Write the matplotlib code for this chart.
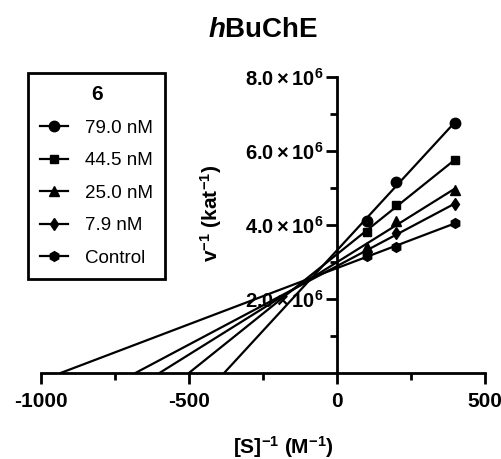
import numpy as np
import matplotlib
matplotlib.use('Agg')
import matplotlib.pyplot as plt
from matplotlib.ticker import FixedLocator
from matplotlib.lines import Line2D

plt.rcParams['font.family'] = ['Liberation Sans', 'DejaVu Sans']
plt.rcParams['mathtext.fontset'] = 'custom'
plt.rcParams['mathtext.rm'] = 'Liberation Sans'
plt.rcParams['mathtext.bf'] = 'Liberation Sans:bold'
plt.rcParams['mathtext.it'] = 'Liberation Sans:italic'
plt.rcParams['mathtext.bfit'] = 'Liberation Sans:bold:italic'
plt.rcParams['axes.unicode_minus'] = False

# Lineweaver-Burk data: 1/[S] (M^-1) vs 1/v (kat^-1)
inv_s = [100, 200, 400]
series_labels = ['79.0 nM', '44.5 nM', '25.0 nM', '7.9 nM', 'Control']
inv_v_79 = [4.12e6, 5.15e6, 6.76e6]
inv_v_44 = [3.82e6, 4.54e6, 5.76e6]
inv_v_25 = [3.41e6, 4.12e6, 4.95e6]
inv_v_7 = [3.28e6, 3.79e6, 4.57e6]
inv_v_ctrl = [3.16e6, 3.41e6, 4.06e6]
markers = ['o', 's', '^', 'd', 'h']
msizes = [7.5, 6, 7, 6.5, 7]

xticks = [-1000, -500, 0, 500]
xtick_labels = ['-1000', '-500', '0', '500']
yticks = [2e6, 4e6, 6e6, 8e6]
ytick_labels = [r'$\mathbf{%d.0\times10^{6}}$' % (v / 1e6) for v in yticks]

fig = plt.figure(figsize=(5.02, 4.59), dpi=100)
ax = fig.add_axes([41 / 502, 1 - 373 / 459, 444 / 502, 296 / 459])

all_series = [inv_v_79, inv_v_44, inv_v_25, inv_v_7, inv_v_ctrl]
x = np.array(inv_s, dtype=float)
handles = []
for yv, lab, m, ms in zip(all_series, series_labels, markers, msizes):
    # linear regression, extended back to the x-intercept (-1/Km)
    slope, icpt = np.polyfit(x, np.array(yv), 1)
    x0 = -icpt / slope
    ax.plot([x0, x.max()], [0, slope * x.max() + icpt], 'k-', lw=1.6, zorder=2)
    ax.plot(x, yv, 'k', ls='none', marker=m, ms=ms, zorder=3)
    handles.append(Line2D([], [], color='k', lw=1.6, marker=m, ms=ms, label=lab))

ax.set_xlim(-1000, 500)
ax.set_ylim(0, 8e6)

for s in ['top', 'right']:
    ax.spines[s].set_visible(False)
ax.spines['left'].set_position(('data', 0))
ax.spines['left'].set_linewidth(2)
ax.spines['bottom'].set_linewidth(2)

ax.xaxis.set_major_locator(FixedLocator(xticks))
ax.set_xticklabels(xtick_labels, fontsize=15, fontweight='bold')
ax.xaxis.set_minor_locator(FixedLocator([-750, -250, 250]))
ax.yaxis.set_major_locator(FixedLocator(yticks))
ax.set_yticklabels(ytick_labels, fontsize=14.5)
ax.yaxis.set_minor_locator(FixedLocator([1e6, 3e6, 5e6, 7e6]))
ax.tick_params(which='major', direction='out', length=8, width=2)
ax.tick_params(axis='x', which='major', pad=6)
ax.tick_params(axis='y', which='major', pad=2)
ax.tick_params(which='minor', direction='out', length=5, width=2)
ax.patch.set_alpha(0)

fig.text(263 / 502, 1 - 30 / 459, r'$\mathbfit{h}$BuChE', fontsize=20,
         fontweight='bold', ha='center', va='center')
fig.text(283 / 502, 1 - 447 / 459, r'[S]$^{\mathbf{-1}}$ (M$^{\mathbf{-1}}$)',
         fontsize=15, fontweight='bold', ha='center', va='center')
fig.text(211 / 502, 1 - 213 / 459, r'v$^{\mathbf{-1}}$ (kat$^{\mathbf{-1}}$)',
         fontsize=15, fontweight='bold', ha='center', va='center', rotation=90)

leg = fig.legend(handles=handles, loc='upper left',
                 bbox_to_anchor=(28 / 502, 1 - 73 / 459),
                 borderaxespad=0, title='6', fontsize=13.5, handlelength=1.5,
                 handletextpad=0.9, labelspacing=0.82, borderpad=0.65,
                 fancybox=False, edgecolor='black', framealpha=1)
leg.get_title().set_fontweight('bold')
leg.get_title().set_fontsize(15)
leg.get_frame().set_linewidth(2)

fig.savefig('out.png', dpi=100)
